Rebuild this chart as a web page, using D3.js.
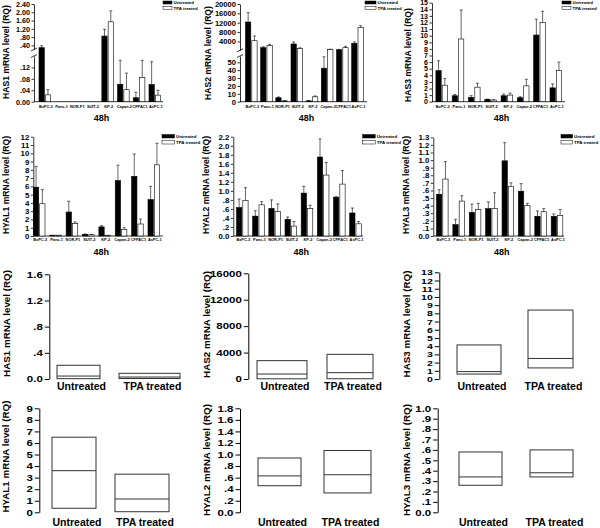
<!DOCTYPE html>
<html><head><meta charset="utf-8">
<script src="https://cdn.jsdelivr.net/npm/d3@7"></script>
<style>
body{margin:0;background:#fff}
svg{display:block;font-family:"Liberation Sans",Arial,sans-serif;font-weight:bold}
</style></head><body>
<svg id="c" width="600" height="528"></svg>
<script>
// ---------------- DATA ----------------
const categories = ["BxPC-3","Panc-1","NOR-P1","SUIT-2","KP-2","Capan-2","CFPAC1","AsPC-1"];
const groups = ["Untreated","TPA treated"];
const timeLabel = "48h";

// bar charts: mean and upper error (SD)
const has1Untreated   = [0.287, 0, 0, 0, 0.85, 0.061, 0.014, 0.06];
const has1UntreatedSD = [0.093, 0, 0, 0, 0.33, 0.084, 0.019, 0.08];
const has1Tpa         = [0.024, 0, 0, 0, 1.54, 0.042, 0.085, 0.023];
const has1TpaSD       = [0.018, 0, 0, 0, 0.53, 0.058, 0.06, 0.017];

const has2Untreated   = [12300, 1310, 5, 2900, 1, 42.5, 450, 3200];
const has2UntreatedSD = [4000, 400, 1, 850, 0.5, 14.5, 150, 600];
const has2Tpa         = [4300, 2170, 1, 890, 6.2, 630, 1310, 9900];
const has2TpaSD       = [2000, 600, 0.5, 400, 1.1, 60, 590, 800];

const has3Untreated   = [4.7, 0.9, 0.66, 0.35, 0.9, 0.6, 10.1, 2.1];
const has3UntreatedSD = [1.5, 0.2, 0.25, 0.05, 0.26, 0.15, 2.4, 0.6];
const has3Tpa         = [2.5, 9.5, 2.2, 0.25, 1.0, 2.4, 12.0, 4.7];
const has3TpaSD       = [1.0, 4.4, 0.6, 0.05, 0.3, 1.0, 1.7, 1.3];

const hyal1Untreated   = [5.9, 0.1, 2.9, 0.2, 1.1, 6.7, 7.2, 4.4];
const hyal1UntreatedSD = [2.5, 0, 1.3, 0.05, 0.15, 1.85, 2.7, 1.6];
const hyal1Tpa         = [3.9, 0.1, 1.5, 0.15, 0.1, 0.8, 1.45, 8.6];
const hyal1TpaSD       = [1.7, 0, 0.2, 0.03, 0, 0.2, 0.6, 2.6];

const hyal2Untreated   = [0.63, 0.44, 0.61, 0.37, 0.95, 1.75, 0.86, 0.51];
const hyal2UntreatedSD = [0.19, 0.12, 0.19, 0.05, 0.15, 0.4, 0.01, 0.11];
const hyal2Tpa         = [0.79, 0.69, 0.54, 0.22, 0.61, 1.35, 1.15, 0.27];
const hyal2TpaSD       = [0.28, 0.07, 0.17, 0.1, 0.07, 0.28, 0.3, 0.05];

const hyal3Untreated   = [0.55, 0.15, 0.31, 0.36, 0.99, 0.59, 0.26, 0.26];
const hyal3UntreatedSD = [0.06, 0.07, 0.11, 0.09, 0.24, 0.1, 0.07, 0.03];
const hyal3Tpa         = [0.75, 0.46, 0.35, 0.36, 0.65, 0.40, 0.32, 0.27];
const hyal3TpaSD       = [0.23, 0.07, 0.08, 0.21, 0.05, 0.03, 0.04, 0.08];

// box charts: [q1, median, q3] per group
const has1Box  = [[0.005, 0.045, 0.21], [0.008, 0.03, 0.087]];
const has2Box  = [[30, 750, 2780], [40, 960, 3730]];
const has3Box  = [[0.6, 0.9, 4.15], [1.35, 2.5, 8.4]];
const hyal1Box = [[0.35, 3.6, 6.5], [0.05, 1.15, 3.3]];
const hyal2Box = [[0.46, 0.63, 0.94], [0.335, 0.65, 1.07]];
const hyal3Box = [[0.26, 0.34, 0.58], [0.34, 0.38, 0.60]];

// tick values
const has1UpperTicks = [0.4, 0.8, 1.2, 1.6, 2.0, 2.4];
const has1LowerTicks = [0, 0.04, 0.08, 0.12];
const has2UpperTicks = [4000, 8000, 12000, 16000, 20000];
const has2LowerTicks = [0, 10, 20, 30, 40, 50];
const has3Ticks  = [0,1,2,3,4,5,6,7,8,9,10,11,12,13,14,15];
const hyal1Ticks = [0,1,2,3,4,5,6,7,8,9,10,11,12];
const hyal2Ticks = [0,0.2,0.4,0.6,0.8,1.0,1.2,1.4,1.6,1.8,2.0,2.2];
const hyal3Ticks = [0,0.1,0.2,0.3,0.4,0.5,0.6,0.7,0.8,0.9,1.0,1.1,1.2,1.3];
const has1BoxTicks  = [0, 0.4, 0.8, 1.2, 1.6];
const has2BoxTicks  = [0, 4000, 8000, 12000, 16000];
const has3BoxTicks  = [0,1,2,3,4,5,6,7,8,9,10,11,12,13];
const hyal1BoxTicks = [0,1,2,3,4,5,6,7,8,9];
const hyal2BoxTicks = [0,0.2,0.4,0.6,0.8,1.0,1.2,1.4,1.6,1.8];
const hyal3BoxTicks = [0,0.1,0.2,0.3,0.4,0.5,0.6,0.7,0.8,0.9,1.0];

// ---------------- HELPERS ----------------
const svg = d3.select("#c");
const fmt2 = v => v === 0 ? "0.00" : d3.format(".2f")(v).replace(/^0\./, ".");
const fmt1 = v => v === 0 ? "0.0" : d3.format(".1f")(v).replace(/^0\./, ".");
const fmtI = d3.format("d");

function styleAxis(sel, fs, sw, stretch) {
  sel.selectAll("path.domain").attr("stroke", "#000").attr("stroke-width", sw);
  sel.selectAll(".tick line").attr("stroke", "#000").attr("stroke-width", sw);
  sel.selectAll(".tick text").attr("font-size", fs).attr("font-weight", "bold")
     .attr("font-family", "Liberation Sans, Arial, sans-serif").attr("fill", "#000");
  if (stretch) {
    sel.selectAll(".tick text").each(function() {
      const t = d3.select(this); const xx = +t.attr("x");
      t.attr("x", 0).attr("transform", `translate(${xx},0) scale(${stretch},1)`);
    });
  }
}

function yTitle(text, x, y, fs) {
  svg.append("text").attr("transform", `translate(${x},${y}) rotate(-90)`)
    .attr("text-anchor", "middle").attr("dominant-baseline", "central")
    .attr("font-size", fs).text(text);
}

function legend(x, y, w, h, fs) {
  const g = svg.append("g").attr("transform", `translate(${x},${y})`);
  groups.forEach((name, i) => {
    g.append("rect").attr("x", 0).attr("y", i * (h + 2.5)).attr("width", w).attr("height", h)
      .attr("fill", i === 0 ? "#000" : "#fff").attr("stroke", "#000").attr("stroke-width", 0.5);
    g.append("text").attr("x", w + 1.5).attr("y", i * (h + 2.5) + h / 2)
      .attr("dominant-baseline", "central").attr("font-size", fs).text(name);
  });
}

function barPanel(p) {
  const g = svg.append("g");
  const y = d3.scaleLinear().domain(p.yDomain).range(p.yRange);
  const n = categories.length;
  const step = (p.lastC - p.firstC) / (n - 1);
  const x = d3.scaleBand().domain(categories).range([p.firstC - step / 2, p.lastC + step / 2]).padding(0);
  const bw = 5.3, gap = 1;
  const y0 = y(0);

  if (p.brk) {
    const yl = d3.scaleLinear().domain([0, p.yDomain[1]]).range([p.yRange[0], p.yRange[1]]);
    const yu = d3.scaleLinear().domain([p.yDomain[2], p.yDomain[3]]).range([p.yRange[2], p.yRange[3]]);
    const al = g.append("g").attr("transform", `translate(${p.axisX},0)`)
      .call(d3.axisLeft(yl).tickValues(p.lowerTicks).tickFormat(p.fmt).tickSize(2.5).tickSizeOuter(0).tickPadding(1.5));
    const au = g.append("g").attr("transform", `translate(${p.axisX},0)`)
      .call(d3.axisLeft(yu).tickValues(p.upperTicks).tickFormat(p.fmt).tickSize(2.5).tickSizeOuter(0).tickPadding(1.5));
    styleAxis(al, p.tickFs, 0.8); styleAxis(au, p.tickFs, 0.8);
    [p.yRange[1], p.yRange[2]].forEach(yy => {
      g.append("line").attr("x1", p.axisX - 3).attr("x2", p.axisX + 3)
        .attr("y1", yy + 1.5).attr("y2", yy - 1.5).attr("stroke", "#000").attr("stroke-width", 0.8);
    });
  } else {
    const a = g.append("g").attr("transform", `translate(${p.axisX},0)`)
      .call(d3.axisLeft(y).tickValues(p.ticks).tickFormat(p.fmt).tickSize(2.5).tickSizeOuter(0).tickPadding(1.5));
    styleAxis(a, p.tickFs, 0.8);
  }
  g.append("line").attr("x1", p.axisX).attr("x2", p.xEnd).attr("y1", y0).attr("y2", y0)
    .attr("stroke", "#000").attr("stroke-width", 0.8);

  p.series.forEach((s, si) => {
    const rows = categories.map((c, i) => ({ c, v: s.mean[i], sd: s.sd[i] }));
    const bx = d => x(d.c) + x.bandwidth() / 2 + (si === 0 ? -gap / 2 - bw : gap / 2);
    g.append("g").selectAll("rect").data(rows).join("rect")
      .attr("x", bx).attr("width", bw)
      .attr("y", d => y(d.v)).attr("height", d => Math.max(0, y0 - y(d.v)))
      .attr("fill", si === 0 ? "#000" : "#fff").attr("stroke", "#000").attr("stroke-width", 0.6);
    const eb = g.append("g").selectAll("g").data(rows.filter(d => d.sd > 0)).join("g");
    eb.append("line").attr("x1", d => bx(d) + bw / 2).attr("x2", d => bx(d) + bw / 2)
      .attr("y1", d => y(d.v)).attr("y2", d => y(d.v + d.sd)).attr("stroke", "#000").attr("stroke-width", 0.6);
    eb.append("line").attr("x1", d => bx(d) + bw / 2 - 1.5).attr("x2", d => bx(d) + bw / 2 + 1.5)
      .attr("y1", d => y(d.v + d.sd)).attr("y2", d => y(d.v + d.sd)).attr("stroke", "#000").attr("stroke-width", 0.6);
  });

  g.append("g").selectAll("text").data(categories).join("text")
    .attr("x", d => x(d) + x.bandwidth() / 2 + 1).attr("y", p.catY)
    .attr("text-anchor", "middle").attr("font-size", 3.9).text(d => d);

  g.append("text").attr("x", (p.axisX + p.xEnd) / 2 + 3).attr("y", p.timeY)
    .attr("text-anchor", "middle").attr("font-size", 9).text(timeLabel);

  yTitle(p.title, p.titleX, p.titleY, 8.6);
  legend(p.legX, p.legY, p.legW, p.legH, 4.4);
}

function boxPanel(p) {
  const g = svg.append("g");
  const y = d3.scaleLinear().domain(p.yDomain).range(p.yRange);
  const x = d3.scalePoint().domain(groups).range(p.centers);
  const a = g.append("g").attr("transform", `translate(${p.axisX},0)`)
    .call(d3.axisLeft(y).tickValues(p.ticks).tickFormat(p.fmt).tickSize(4.5).tickSizeOuter(0).tickPadding(2));
  styleAxis(a, p.tickFs || 8.5, 1, 1.35);
  const rows = groups.map((gname, i) => ({ g: gname, q: p.box[i], w: p.widths[i] }));
  g.append("g").selectAll("rect").data(rows).join("rect")
    .attr("x", d => x(d.g) - d.w / 2).attr("width", d => d.w)
    .attr("y", d => y(d.q[2])).attr("height", d => y(d.q[0]) - y(d.q[2]))
    .attr("fill", "none").attr("stroke", "#333").attr("stroke-width", 1);
  g.append("g").selectAll("line").data(rows).join("line")
    .attr("x1", d => x(d.g) - d.w / 2).attr("x2", d => x(d.g) + d.w / 2)
    .attr("y1", d => y(d.q[1])).attr("y2", d => y(d.q[1]))
    .attr("stroke", "#333").attr("stroke-width", 1);
  g.append("g").selectAll("text").data(groups).join("text")
    .attr("x", d => x(d) + 3).attr("y", p.labelY).attr("text-anchor", "middle")
    .attr("font-size", 10.5).text(d => d);
  yTitle(p.title, p.titleX, p.titleY, 9.8);
}

// ---------------- PANELS ----------------
barPanel({ title: "HAS1 mRNA level (RQ)", titleX: 6, titleY: 52,
  brk: true, yDomain: [0, 0.16, 0.2, 2.4], yRange: [101.7, 56, 49.5, 4],
  lowerTicks: has1LowerTicks, upperTicks: has1UpperTicks, fmt: fmt2, tickFs: 7.2,
  axisX: 34, firstC: 44.8, lastC: 154.8, xEnd: 163, catY: 107.5, timeY: 121,
  legX: 163, legY: 1, legW: 9, legH: 3,
  series: [{ mean: has1Untreated, sd: has1UntreatedSD }, { mean: has1Tpa, sd: has1TpaSD }] });

barPanel({ title: "HAS2 mRNA level (RQ)", titleX: 207.5, titleY: 53,
  brk: true, yDomain: [0, 58, 200, 20000], yRange: [101.7, 56, 50.3, 4],
  lowerTicks: has2LowerTicks, upperTicks: has2UpperTicks, fmt: fmtI, tickFs: 7.6,
  axisX: 240, firstC: 251.3, lastC: 357.5, xEnd: 367, catY: 107.5, timeY: 121,
  legX: 365, legY: 1, legW: 11, legH: 3,
  series: [{ mean: has2Untreated, sd: has2UntreatedSD }, { mean: has2Tpa, sd: has2TpaSD }] });

barPanel({ title: "HAS3 mRNA level (RQ)", titleX: 407.5, titleY: 55,
  yDomain: [0, 15], yRange: [101.7, 2.7], ticks: has3Ticks, fmt: fmtI, tickFs: 7,
  axisX: 432, firstC: 441.7, lastC: 555.8, xEnd: 565, catY: 107.5, timeY: 121,
  legX: 562, legY: 1, legW: 9, legH: 3,
  series: [{ mean: has3Untreated, sd: has3UntreatedSD }, { mean: has3Tpa, sd: has3TpaSD }] });

barPanel({ title: "HYAL1 mRNA level (RQ)", titleX: 6, titleY: 185,
  yDomain: [0, 12], yRange: [236, 136.7], ticks: hyal1Ticks, fmt: fmtI, tickFs: 7.8,
  axisX: 33.3, firstC: 39.2, lastC: 153.8, xEnd: 163, catY: 240.5, timeY: 255,
  legX: 162, legY: 134.5, legW: 12.5, legH: 3.5,
  series: [{ mean: hyal1Untreated, sd: hyal1UntreatedSD }, { mean: hyal1Tpa, sd: hyal1TpaSD }] });

barPanel({ title: "HYAL2 mRNA level (RQ)", titleX: 206, titleY: 185,
  yDomain: [0, 2.2], yRange: [236, 136.7], ticks: hyal2Ticks, fmt: fmt1, tickFs: 7.8,
  axisX: 233.3, firstC: 242.3, lastC: 355.5, xEnd: 363, catY: 240.5, timeY: 255,
  legX: 362.7, legY: 134.5, legW: 12.5, legH: 3.5,
  series: [{ mean: hyal2Untreated, sd: hyal2UntreatedSD }, { mean: hyal2Tpa, sd: hyal2TpaSD }] });

barPanel({ title: "HYAL3 mRNA level (RQ)", titleX: 406, titleY: 185,
  yDomain: [0, 1.3], yRange: [236, 137.3], ticks: hyal3Ticks, fmt: fmt1, tickFs: 7.8,
  axisX: 433.3, firstC: 442.3, lastC: 557, xEnd: 564, catY: 240.5, timeY: 255,
  legX: 561, legY: 134.5, legW: 11.5, legH: 3.5,
  series: [{ mean: hyal3Untreated, sd: hyal3UntreatedSD }, { mean: hyal3Tpa, sd: hyal3TpaSD }] });

boxPanel({ title: "HAS1 mRNA level (RQ)", titleX: 6, titleY: 323.5,
  yDomain: [0, 1.6], yRange: [379, 274.3], ticks: has1BoxTicks, fmt: fmt1,
  axisX: 49.3, centers: [78.5, 149.5], widths: [43, 61], box: has1Box, labelY: 389.5 });
boxPanel({ title: "HAS2 mRNA level (RQ)", titleX: 206.7, titleY: 324.5,
  yDomain: [0, 16000], yRange: [379, 273.3], ticks: has2BoxTicks, fmt: fmtI,
  axisX: 248.3, centers: [282, 350], widths: [50, 46], box: has2Box, labelY: 389.5 });
boxPanel({ title: "HAS3 mRNA level (RQ)", titleX: 406.7, titleY: 324, tickFs: 7.8,
  yDomain: [0, 13], yRange: [379, 272.3], ticks: has3BoxTicks, fmt: fmtI,
  axisX: 439.3, centers: [479, 550.5], widths: [44, 45], box: has3Box, labelY: 389.5 });
boxPanel({ title: "HYAL1 mRNA level (RQ)", titleX: 5.5, titleY: 456.5,
  yDomain: [0, 9], yRange: [512.3, 408.3], ticks: hyal1BoxTicks, fmt: fmtI,
  axisX: 39.3, centers: [74, 142], widths: [44, 54], box: hyal1Box, labelY: 525.5 });
boxPanel({ title: "HYAL2 mRNA level (RQ)", titleX: 206.7, titleY: 460,
  yDomain: [0, 1.8], yRange: [512.3, 408.3], ticks: hyal2BoxTicks, fmt: fmt1,
  axisX: 240, centers: [279.5, 347.5], widths: [43, 47], box: hyal2Box, labelY: 525.5 });
boxPanel({ title: "HYAL3 mRNA level (RQ)", titleX: 406.7, titleY: 460,
  yDomain: [0, 1.0], yRange: [512.3, 408.3], ticks: hyal3BoxTicks, fmt: fmt1,
  axisX: 437.7, centers: [480.5, 551.5], widths: [43, 43], box: hyal3Box, labelY: 525.5 });
</script></body></html>
